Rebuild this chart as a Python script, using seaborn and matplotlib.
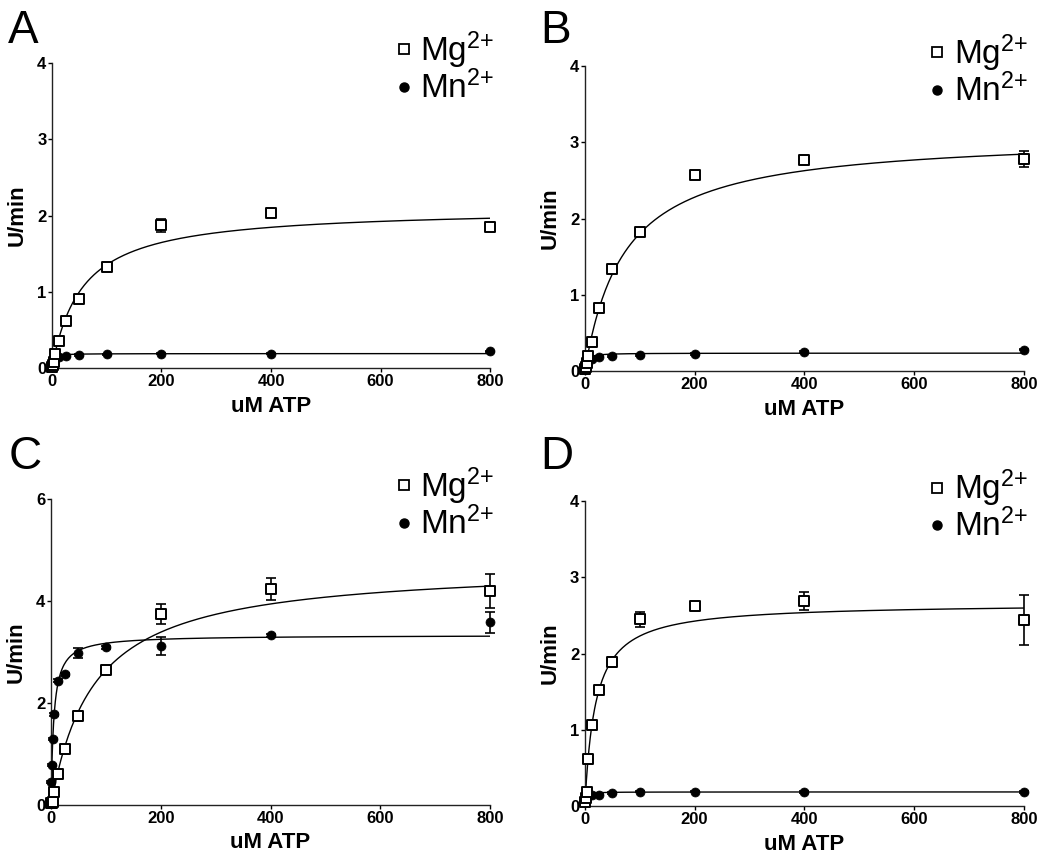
import numpy as np
import pandas as pd
import seaborn as sns
import matplotlib.pyplot as plt
from matplotlib.lines import Line2D

# ATP concentrations (uM), 2-fold dilution series
atp = [0.78, 1.56, 3.125, 6.25, 12.5, 25, 50, 100, 200, 400, 800]

# panel A
mg_a = [0.02, 0.04, 0.08, 0.19, 0.36, 0.62, 0.90, 1.33, 1.87, 2.03, 1.85]
mg_a_err = [0.01, 0.01, 0.01, 0.02, 0.03, 0.03, 0.03, 0.05, 0.08, 0.03, 0.03]
mn_a = [0.03, 0.07, 0.10, 0.13, 0.15, 0.16, 0.17, 0.18, 0.19, 0.19, 0.22]
mn_a_err = [0.01] * 11

# panel B
mg_b = [0.02, 0.05, 0.10, 0.20, 0.38, 0.83, 1.34, 1.82, 2.57, 2.77, 2.78]
mg_b_err = [0.01, 0.01, 0.01, 0.02, 0.02, 0.03, 0.03, 0.03, 0.05, 0.03, 0.10]
mn_b = [0.05, 0.08, 0.11, 0.13, 0.16, 0.19, 0.20, 0.21, 0.22, 0.25, 0.28]
mn_b_err = [0.01] * 11

# panel C
mg_c = [0.03, 0.04, 0.06, 0.25, 0.61, 1.10, 1.75, 2.64, 3.75, 4.24, 4.19]
mg_c_err = [0.02, 0.02, 0.02, 0.03, 0.03, 0.04, 0.10, 0.04, 0.20, 0.22, 0.33]
mn_c = [0.46, 0.78, 1.29, 1.78, 2.44, 2.56, 2.98, 3.09, 3.12, 3.33, 3.58]
mn_c_err = [0.02, 0.02, 0.02, 0.03, 0.03, 0.03, 0.10, 0.03, 0.17, 0.03, 0.20]

# panel D
mg_d = [0.05, 0.10, 0.18, 0.62, 1.06, 1.52, 1.89, 2.45, 2.63, 2.69, 2.44]
mg_d_err = [0.01, 0.02, 0.02, 0.03, 0.03, 0.03, 0.07, 0.10, 0.03, 0.12, 0.33]
mn_d = [0.05, 0.09, 0.12, 0.14, 0.15, 0.15, 0.17, 0.19, 0.19, 0.185, 0.185]
mn_d_err = [0.01] * 11

# Michaelis-Menten fit parameters (Vmax, Km)
fit_mg = {"A": (2.10, 55), "B": (3.10, 72), "C": (4.71, 78), "D": (2.66, 19.3)}
fit_mn = {"A": (0.19, 2.0), "B": (0.235, 3.0), "C": (3.33, 5.0), "D": (0.185, 1.5)}

ymax = {"A": 4, "B": 4, "C": 6, "D": 4}
yticks = {"A": [0, 1, 2, 3, 4], "B": [0, 1, 2, 3, 4], "C": [0, 2, 4, 6], "D": [0, 1, 2, 3, 4]}

panels = {
    "A": (mg_a, mg_a_err, mn_a, mn_a_err),
    "B": (mg_b, mg_b_err, mn_b, mn_b_err),
    "C": (mg_c, mg_c_err, mn_c, mn_c_err),
    "D": (mg_d, mg_d_err, mn_d, mn_d_err),
}

# axes rectangles in figure fractions
rects = {
    "A": [0.0495, 0.574, 0.4172, 0.353],
    "B": [0.557, 0.5706, 0.418, 0.353],
    "C": [0.0486, 0.0683, 0.4181, 0.3542],
    "D": [0.557, 0.0671, 0.418, 0.3529],
}
letter_pos = {"A": (0.008, 0.99), "B": (0.515, 0.99), "C": (0.008, 0.497), "D": (0.515, 0.497)}

sns.set_style("ticks")
plt.rcParams["font.family"] = ["Liberation Sans", "DejaVu Sans"]
plt.rcParams["mathtext.default"] = "regular"
plt.rcParams["text.color"] = "black"
plt.rcParams["axes.labelcolor"] = "black"

fig = plt.figure(figsize=(10.5, 8.64), dpi=100)

xs = np.concatenate([np.linspace(0.78, 20, 200), np.linspace(20, 800, 400)])

for key, (mg, mg_err, mn, mn_err) in panels.items():
    ax = fig.add_axes(rects[key])
    df = pd.DataFrame({"atp": atp, "mg": mg, "mn": mn})

    for (vmax, km) in (fit_mg[key], fit_mn[key]):
        curve = pd.DataFrame({"x": xs, "y": vmax * xs / (km + xs)})
        sns.lineplot(data=curve, x="x", y="y", color="black", linewidth=1.0, ax=ax, zorder=2)

    ax.errorbar(atp, mg, yerr=mg_err, fmt="none", ecolor="black", elinewidth=1.2,
                capsize=3.5, capthick=1.2, zorder=3, clip_on=False)
    ax.errorbar(atp, mn, yerr=mn_err, fmt="none", ecolor="black", elinewidth=1.2,
                capsize=3.5, capthick=1.2, zorder=3, clip_on=False)
    sns.scatterplot(data=df, x="atp", y="mn", marker="o", s=42, color="black",
                    edgecolor="black", linewidth=0.5, ax=ax, zorder=4, clip_on=False)
    sns.scatterplot(data=df, x="atp", y="mg", marker="s", s=62, facecolor="white",
                    edgecolor="black", linewidth=1.4, ax=ax, zorder=5, clip_on=False)

    ax.set_xlim(0, 800)
    ax.set_ylim(0, ymax[key])
    ax.set_xticks([0, 200, 400, 600, 800])
    ax.set_yticks(yticks[key])
    ax.tick_params(axis="both", direction="out", length=3, width=1, pad=1,
                   labelsize=12, colors="black")
    for lab in ax.get_xticklabels() + ax.get_yticklabels():
        lab.set_fontweight("bold")
    for side in ("left", "bottom"):
        ax.spines[side].set_linewidth(1.0)
        ax.spines[side].set_color("#222222")
    sns.despine(ax=ax)

    ax.set_xlabel("uM ATP", fontsize=16, fontweight="bold", labelpad=5)
    ax.set_ylabel("U/min", fontsize=16, fontweight="bold", labelpad=7)

    handles = [
        Line2D([], [], marker="s", linestyle="none", markersize=7.5, markerfacecolor="white",
               markeredgecolor="black", markeredgewidth=1.3),
        Line2D([], [], marker="o", linestyle="none", markersize=6.5, color="black"),
    ]
    ax.legend(handles, ["Mg$^{2{+}}$", "Mn$^{2{+}}$"], loc="upper right",
              bbox_to_anchor=(1.01, 1.11), frameon=False, fontsize=24,
              handletextpad=0.1, labelspacing=0.0, handlelength=0.8,
              borderaxespad=0, borderpad=0)

    fig.text(letter_pos[key][0], letter_pos[key][1], key, fontsize=33,
             va="top", ha="left", color="black")

plt.savefig("out.png", dpi=100)
